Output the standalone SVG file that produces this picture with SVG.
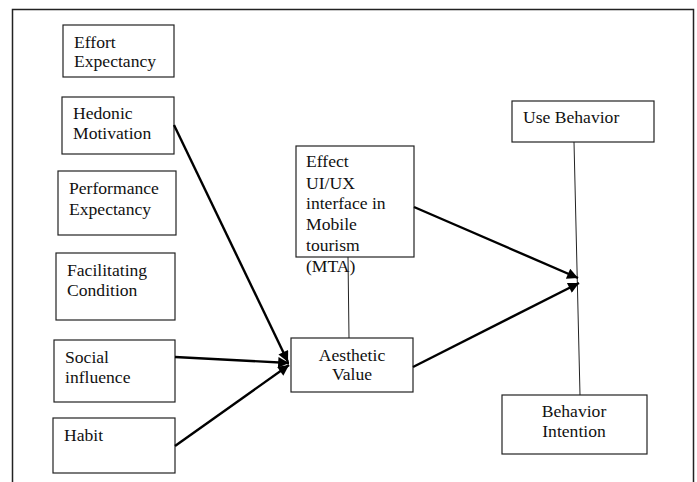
<svg xmlns="http://www.w3.org/2000/svg" width="697" height="482" viewBox="0 0 697 482">
<style>
.box{fill:#fff;stroke:#222;stroke-width:1.2}
text{font-family:"Liberation Serif","Times New Roman",serif;font-size:17.6px;fill:#111}
.c{text-anchor:middle}
.thick{stroke:#000;stroke-width:2.4;fill:none}
.thin{stroke:#222;stroke-width:1;fill:none}
</style>
<defs>
<marker id="ah" viewBox="0 0 10 10" refX="10" refY="5" markerWidth="5" markerHeight="4.5" markerUnits="strokeWidth" orient="auto">
<path d="M0,0 L10,5 L0,10 z" fill="#000"/>
</marker>
</defs>
<rect width="697" height="482" fill="#fff"/>
<path d="M12.5,482 V9.5 H693.5 V482" fill="none" stroke="#222" stroke-width="1.5"/>
<g id="effort"><rect class="box" x="63" y="25" width="111" height="52"/><text x="74" y="48">Effort</text><text x="74" y="67">Expectancy</text></g>
<g id="hedonic"><rect class="box" x="62" y="97" width="112" height="57"/><text x="73" y="119">Hedonic</text><text x="73" y="139">Motivation</text></g>
<g id="performance"><rect class="box" x="58" y="171" width="118" height="64"/><text x="69" y="194">Performance</text><text x="69" y="215">Expectancy</text></g>
<g id="facilitating"><rect class="box" x="56" y="253" width="119" height="67"/><text x="67" y="276">Facilitating</text><text x="67" y="296">Condition</text></g>
<g id="social"><rect class="box" x="54" y="340" width="121" height="62"/><text x="65" y="363">Social</text><text x="65" y="383">influence</text></g>
<g id="habit"><rect class="box" x="53" y="418" width="122" height="55"/><text x="64" y="441">Habit</text></g>
<g id="effect"><rect class="box" x="296" y="146" width="118" height="111"/><text x="306" y="167">Effect</text><text x="306" y="189">UI/UX</text><text x="306" y="209">interface in</text><text x="306" y="230">Mobile</text><text x="306" y="251">tourism</text><text x="306" y="272">(MTA)</text></g>
<g id="aesthetic"><rect class="box" x="291" y="338" width="122" height="54"/><text class="c" x="352" y="361">Aesthetic</text><text class="c" x="352" y="380">Value</text></g>
<g id="use"><rect class="box" x="512" y="101" width="142" height="41"/><text x="523" y="123">Use Behavior</text></g>
<g id="intention"><rect class="box" x="502" y="395" width="145" height="59"/><text class="c" x="574" y="417">Behavior</text><text class="c" x="574" y="437">Intention</text></g>
<g id="connectors">
<line class="thin" x1="574" y1="142" x2="580" y2="395"/>
<line class="thin" x1="348" y1="257" x2="349" y2="338"/>
<line class="thick" x1="174" y1="125" x2="288" y2="362" marker-end="url(#ah)"/>
<line class="thick" x1="175" y1="357" x2="289" y2="363" marker-end="url(#ah)"/>
<line class="thick" x1="175" y1="446" x2="289" y2="365" marker-end="url(#ah)"/>
<line class="thick" x1="414" y1="207" x2="578" y2="278" marker-end="url(#ah)"/>
<line class="thick" x1="413" y1="367" x2="579" y2="283" marker-end="url(#ah)"/>
</g>
</svg>
